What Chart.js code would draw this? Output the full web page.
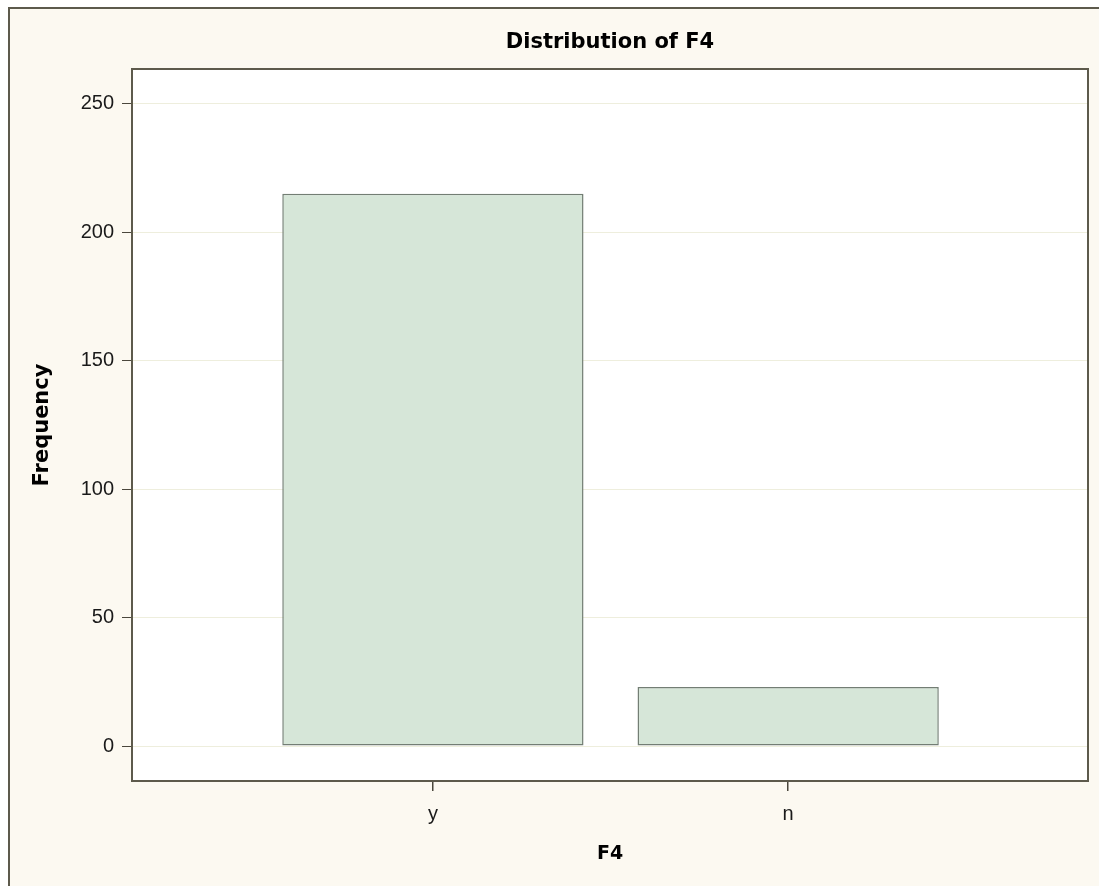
<!DOCTYPE html>
<html>
<head>
<meta charset="utf-8">
<script src="https://cdn.jsdelivr.net/npm/chart.js@4"></script>
<style>
  html, body { margin: 0; padding: 0; background: #ffffff; overflow: hidden; }
  #frame {
    position: absolute; left: 8px; top: 7px;
    width: 1089px; height: 877px;
    border-left: 2px solid #5d5a4c; border-top: 2px solid #5d5a4c;
    background: #fcf9f1;
  }
</style>
</head>
<body>
<div id="frame"><canvas id="barChart" width="1089" height="877"></canvas></div>
<script>
// chart data
var categories = ['y', 'n'];
var frequencies = [215, 23];
var yTicks = [0, 50, 100, 150, 200, 250];

var tickFont = { family: 'Liberation Sans', size: 20 };

// white plot area with a dark box around it, plus the title
var plotBox = {
    id: 'plotBox',
    beforeDraw: function (chart) {
        var a = chart.chartArea, c = chart.ctx;
        c.save();
        c.fillStyle = '#ffffff';
        c.fillRect(a.left, a.top, a.right - a.left, a.bottom - a.top);
        c.restore();
    },
    afterDraw: function (chart) {
        var a = chart.chartArea, c = chart.ctx;
        c.save();
        c.strokeStyle = '#5d5a4c';
        c.lineWidth = 2;
        c.strokeRect(a.left, a.top, a.right - a.left, a.bottom - a.top);
        c.fillStyle = '#000000';
        c.font = 'bold 21px "DejaVu Sans"';
        c.textAlign = 'center';
        c.textBaseline = 'middle';
        c.fillText('Distribution of F4', (a.left + a.right) / 2, 34);
        c.restore();
    }
};

var ctx = document.getElementById('barChart').getContext('2d');
var barChart = new Chart(ctx, {
    type: 'bar',
    data: {
        datasets: [{
            label: 'Frequency',
            data: categories.map(function (c, i) { return { x: i + 1, y: frequencies[i] }; }),
            backgroundColor: '#d6e6d8',
            borderColor: '#737e74',
            borderWidth: 1.5,
            borderSkipped: false,
            barPercentage: 0.848,
            categoryPercentage: 1
        }]
    },
    options: {
        responsive: false,
        animation: false,
        layout: { padding: { top: 60, right: 11, left: 0, bottom: 0 } },
        plugins: { legend: { display: false }, tooltip: { enabled: false } },
        scales: {
            x: {
                type: 'linear',
                offset: false,
                min: 0.153,
                max: 2.844,
                afterBuildTicks: function (axis) {
                    axis.ticks = categories.map(function (c, i) { return { value: i + 1 }; });
                },
                afterFit: function (axis) { axis.height = 105; },
                ticks: {
                    font: tickFont, color: '#1a1a1a', padding: 11,
                    callback: function (v) { return categories[v - 1]; }
                },
                grid: { offset: false, drawOnChartArea: false, color: '#4a473c', tickColor: '#4a473c', tickLength: 10, lineWidth: 1.5 },
                border: { display: false },
                title: {
                    display: true, text: 'F4', color: '#000000',
                    font: { family: 'DejaVu Sans', size: 19, weight: 'bold' },
                    padding: { top: 0, bottom: 21 }
                }
            },
            y: {
                min: -13.6,
                max: 263.6,
                afterBuildTicks: function (axis) {
                    axis.ticks = yTicks.map(function (v) { return { value: v }; });
                },
                afterFit: function (axis) { axis.width = 122; },
                ticks: { font: tickFont, color: '#1a1a1a', padding: 8 },
                grid: { color: '#eeeedd', tickColor: '#4a473c', tickLength: 10 },
                border: { display: false },
                title: {
                    display: true, text: 'Frequency', color: '#000000',
                    font: { family: 'DejaVu Sans', size: 21, weight: 'bold' },
                    padding: { top: 20, bottom: 0 }
                }
            }
        }
    },
    plugins: [plotBox]
});
</script>
</body>
</html>
